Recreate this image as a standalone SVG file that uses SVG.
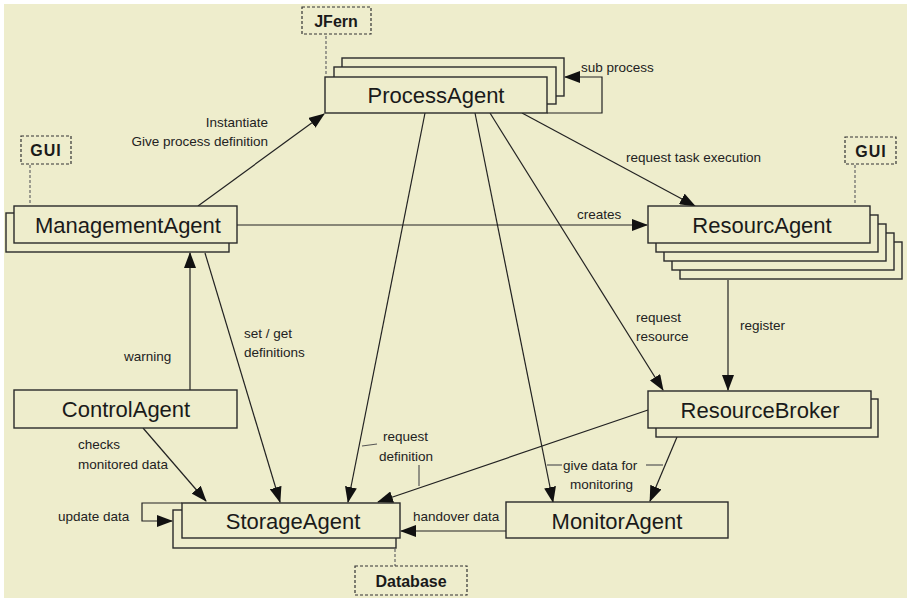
<svg xmlns="http://www.w3.org/2000/svg" width="907" height="598" viewBox="0 0 907 598">
<style>
.box{fill:#EEEDCC;stroke:#2a2a2a;stroke-width:1.4}
.dash{fill:#EEEDCC;stroke:#333;stroke-width:1.2;stroke-dasharray:3,2}
.lead{fill:none;stroke:#666;stroke-width:1.2;stroke-dasharray:3,2}
.name{font-family:"Liberation Sans",Arial,sans-serif;font-size:22px;fill:#1a1a1a;text-anchor:middle}
.bold{font-family:"Liberation Sans",Arial,sans-serif;font-size:16px;font-weight:bold;fill:#1a1a1a;text-anchor:middle}
.lbl{font-family:"Liberation Sans",Arial,sans-serif;font-size:13.5px;fill:#222}
.conn{fill:none;stroke:#222;stroke-width:1.2}
.ldr{fill:none;stroke:#555;stroke-width:1.2}
</style>
<defs>
<marker id="ah" markerUnits="userSpaceOnUse" markerWidth="16" markerHeight="12" refX="15" refY="6" orient="auto">
<path d="M0,0 L16,6 L0,12 Z" fill="#111"/>
</marker>
</defs>
<rect x="0" y="0" width="907" height="598" fill="#ffffff"/>
<rect x="4" y="4" width="903" height="594" fill="#EEEDCC"/>

<g id="connectors">
<path class="conn" d="M198,206 L324,114" marker-end="url(#ah)"/>
<path class="conn" d="M237,225 L647,225" marker-end="url(#ah)"/>
<path class="conn" d="M522,113 L695,206" marker-end="url(#ah)"/>
<path class="conn" d="M547,113 H602 V77 H565" marker-end="url(#ah)"/>
<path class="conn" d="M190,390 L190,253" marker-end="url(#ah)"/>
<path class="conn" d="M205,253 L280,502" marker-end="url(#ah)"/>
<path class="conn" d="M425,113 L348,502" marker-end="url(#ah)"/>
<path class="conn" d="M475,113 L553,502" marker-end="url(#ah)"/>
<path class="conn" d="M490,113 L663,390" marker-end="url(#ah)"/>
<path class="conn" d="M728,280 L728,390" marker-end="url(#ah)"/>
<path class="conn" d="M648,410 L378,502" marker-end="url(#ah)"/>
<path class="conn" d="M677,437 L650,501" marker-end="url(#ah)"/>
<path class="conn" d="M143,428 L206,501" marker-end="url(#ah)"/>
<path class="conn" d="M506,531 L401,531" marker-end="url(#ah)"/>
<path class="conn" d="M182,503 H142 V521 H172" marker-end="url(#ah)"/>
<path class="ldr" d="M362,446 L377,444"/>
<path class="ldr" d="M419,465 L419,486"/>
<path class="ldr" d="M547,465 L562,465"/>
<path class="ldr" d="M646,465 L663,465"/>
<path class="lead" d="M326,36 V76"/>
<path class="lead" d="M30,165 V205"/>
<path class="lead" d="M855,165 V205"/>
<path class="lead" d="M395,549 V566"/>
</g>

<g id="labels">
<text class="lbl" x="268" y="127" text-anchor="end">Instantiate</text>
<text class="lbl" x="268" y="146" text-anchor="end">Give process definition</text>
<text class="lbl" x="581" y="72">sub process</text>
<text class="lbl" x="626" y="162">request task execution</text>
<text class="lbl" x="577" y="219">creates</text>
<text class="lbl" x="124" y="361">warning</text>
<text class="lbl" x="244" y="338">set / get</text>
<text class="lbl" x="244" y="357">definitions</text>
<text class="lbl" x="636" y="322">request</text>
<text class="lbl" x="636" y="341">resource</text>
<text class="lbl" x="740" y="330">register</text>
<text class="lbl" x="78" y="449">checks</text>
<text class="lbl" x="78" y="469">monitored data</text>
<text class="lbl" x="383" y="441">request</text>
<text class="lbl" x="379" y="461">definition</text>
<text class="lbl" x="563" y="470">give data for</text>
<text class="lbl" x="570" y="489">monitoring</text>
<text class="lbl" x="58" y="521">update data</text>
<text class="lbl" x="413" y="521">handover data</text>
</g>

<g id="JFern">
<rect class="dash" x="302" y="7" width="69" height="27"/>
<text class="bold" x="336" y="27">JFern</text>
</g>
<g id="GUI-left">
<rect class="dash" x="21" y="136" width="50" height="28"/>
<text class="bold" x="46" y="156" letter-spacing="1">GUI</text>
</g>
<g id="GUI-right">
<rect class="dash" x="845" y="137" width="51" height="27"/>
<text class="bold" x="871" y="157" letter-spacing="1">GUI</text>
</g>
<g id="Database">
<rect class="dash" x="355" y="566" width="112" height="29"/>
<text class="bold" x="411" y="587">Database</text>
</g>

<g id="ProcessAgent">
<rect class="box" x="342" y="58" width="222" height="38"/>
<rect class="box" x="334" y="67" width="222" height="37"/>
<rect class="box" x="325" y="77" width="222" height="36"/>
<text class="name" x="436" y="103">ProcessAgent</text>
</g>

<g id="ManagementAgent">
<rect class="box" x="6" y="213" width="223" height="39"/>
<rect class="box" x="14" y="206" width="223" height="37"/>
<text class="name" x="128" y="233">ManagementAgent</text>
</g>

<g id="ResourcAgent">
<rect class="box" x="680" y="242" width="222" height="37"/>
<rect class="box" x="672" y="233" width="222" height="37"/>
<rect class="box" x="664" y="224" width="222" height="37"/>
<rect class="box" x="656" y="215" width="222" height="37"/>
<rect class="box" x="648" y="206" width="222" height="37"/>
<text class="name" x="762" y="233">ResourcAgent</text>
</g>

<g id="ControlAgent">
<rect class="box" x="14" y="390" width="223" height="38"/>
<text class="name" x="126" y="417">ControlAgent</text>
</g>

<g id="ResourceBroker">
<rect class="box" x="656" y="399" width="222" height="38"/>
<rect class="box" x="648" y="391" width="223" height="37"/>
<text class="name" x="760" y="418">ResourceBroker</text>
</g>

<g id="StorageAgent">
<rect class="box" x="173" y="510" width="223" height="38"/>
<rect class="box" x="182" y="503" width="218" height="35"/>
<text class="name" x="293" y="529">StorageAgent</text>
</g>

<g id="MonitorAgent">
<rect class="box" x="506" y="502" width="222" height="36"/>
<text class="name" x="617" y="529">MonitorAgent</text>
</g>
</svg>
